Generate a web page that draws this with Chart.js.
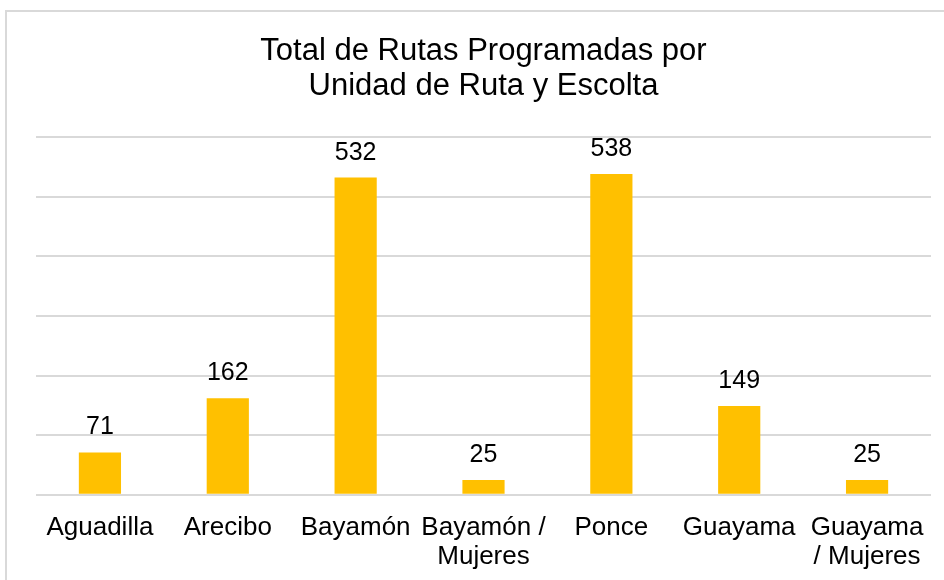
<!DOCTYPE html>
<html>
<head>
<meta charset="utf-8">
<script src="https://cdn.jsdelivr.net/npm/chart.js@4"></script>
<style>
  body { margin: 0; background: #fff; overflow: hidden; }
  #frame {
    position: absolute; left: 5px; top: 10px; width: 1000px; height: 1000px;
    border-left: 2px solid #d9d9d9; border-top: 2px solid #d9d9d9;
  }
  #wrap { position: absolute; left: 0; top: 0; width: 944px; height: 580px; }
</style>
</head>
<body>
<div id="frame"></div>
<div id="wrap"><canvas id="rutasChart"></canvas></div>
<script>
const categories = [
  'Aguadilla',
  'Arecibo',
  'Bayamón',
  ['Bayamón /', 'Mujeres'],
  'Ponce',
  'Guayama',
  ['Guayama', '/ Mujeres'],
];
const rutas = [71, 162, 532, 25, 538, 149, 25];
const yTicks = { min: 0, max: 600, step: 100 };

const FONT = "'Liberation Sans', Arial, sans-serif";

// value labels above each bar
const barValues = {
  id: 'barValues',
  afterDatasetsDraw(chart) {
    const ctx = chart.ctx;
    const meta = chart.getDatasetMeta(0);
    ctx.save();
    ctx.font = '25px ' + FONT;
    ctx.fillStyle = '#000';
    ctx.textAlign = 'center';
    ctx.textBaseline = 'alphabetic';
    meta.data.forEach((bar, i) => {
      ctx.fillText(String(rutas[i]), bar.x, bar.y - 18);
    });
    ctx.restore();
  },
};

const rutasCtx = document.getElementById('rutasChart').getContext('2d');
new Chart(rutasCtx, {
  type: 'bar',
  data: {
    labels: categories,
    datasets: [
      {
        label: 'Rutas',
        data: rutas,
        backgroundColor: '#ffc000',
        barPercentage: 0.33,
        categoryPercentage: 1,
      },
    ],
  },
  options: {
    responsive: true,
    maintainAspectRatio: false,
    animation: false,
    layout: {
      padding: { left: 36, right: 13, top: 0, bottom: 0 },
    },
    plugins: {
      legend: { display: false },
      tooltip: { enabled: false },
      title: {
        display: true,
        text: ['Total de Rutas Programadas por', 'Unidad de Ruta y Escolta'],
        color: '#000',
        font: { family: FONT, size: 31, weight: 'normal', lineHeight: 1.13 },
        padding: { top: 34, bottom: 33 },
      },
    },
    scales: {
      x: {
        grid: { display: false, drawTicks: false },
        border: { display: false },
        ticks: {
          color: '#000',
          font: { family: FONT, size: 26, lineHeight: 1.1 },
          padding: 19,
          maxRotation: 0,
          autoSkip: false,
        },
        afterFit(scale) {
          scale.height -= 10;
        },
      },
      y: {
        min: yTicks.min,
        max: yTicks.max,
        border: { display: false },
        grid: { color: '#d9d9d9', lineWidth: 2, drawTicks: false },
        ticks: { display: false, stepSize: yTicks.step },
      },
    },
  },
  plugins: [barValues],
});
</script>
</body>
</html>
